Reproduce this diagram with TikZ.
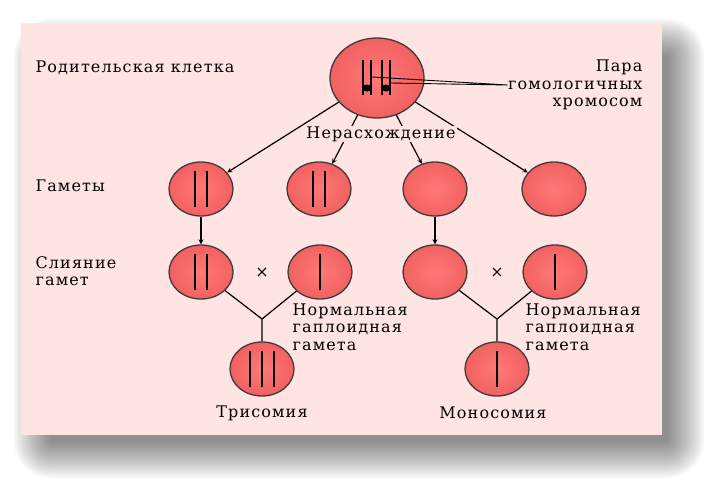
\documentclass[tikz,border=0pt]{standalone}
\usepackage{fontspec}
\setmainfont{DejaVu Serif}[LetterSpace=7.0]
\usetikzlibrary{shapes.geometric}
\definecolor{bgpink}{RGB}{255,228,228}
\definecolor{cellred}{RGB}{255,102,102}
\definecolor{cellrim}{RGB}{64,58,58}
\begin{document}
\begin{tikzpicture}[x=1pt,y=-1pt,line width=1.2pt,>=stealth,
  cell/.style={ellipse,draw=cellrim,inner color=cellred!88!white,outer color=cellred!95!black,line width=1.3pt,minimum width=64pt,minimum height=54pt,inner sep=0pt},
  bigcell/.style={cell,minimum width=94pt,minimum height=80pt},
  txt/.style={font=\fontsize{16}{17.5}\selectfont,inner sep=0pt},
  chrom/.style={line width=1.5pt,black}]
\useasboundingbox (0,0) rectangle (716,490);
% panel and its shadow
\foreach \k in {1,...,24}{\fill[black,opacity=0.024,rounded corners=\k*1.6pt] (52-1.6*\k,57-1.6*\k) rectangle (666+1.6*\k,440+1.6*\k);};
\fill[bgpink] (21,23) rectangle (662,435);
% cells
\node[bigcell] (par) at (377,78) {};
\foreach \n/\x in {g1/201,g2/319,g3/435,g4/554}{\node[cell] (\n) at (\x,189) {};};
\foreach \n/\x in {f1/201,f2/320,f3/435,f4/555}{\node[cell] (\n) at (\x,272) {};};
\node[cell] (tri) at (262,369) {};
\node[cell] (mono) at (497,369) {};
\coordinate (j1) at (262,319);
\coordinate (j2) at (497,319);
% chromosomes
\foreach \n in {g1,g2,f1}{\draw[chrom] (\n.center) ++(-6,-18) -- ++(0,36) (\n.center) ++(6,-18) -- ++(0,36);};
\foreach \n in {f2,f4,mono}{\draw[chrom] (\n.center) ++(0,-18) -- ++(0,36);};
\foreach \d in {-12,0,12}{\draw[chrom] (tri.center) ++(\d,-18) -- ++(0,36);};
\foreach \x in {363,382}{\draw[line width=2pt] (\x,60) -- (\x,95);
  \draw[line width=1.3pt] (\x+8,60) -- (\x+8,95);
  \fill (\x+4,88) ellipse (4.5 and 3.5);};
% labels
\node[txt,anchor=west] (lpar) at (35,68) {Родительская клетка};
\node[txt,anchor=west] (lgam) at (35,186) {Гаметы};
\node[txt,anchor=west,align=left] (lfus) at (35,271) {Слияние\\гамет};
\node[txt,anchor=east,align=right] (pair) at (643,85) {Пара\\гомологичных\\хромосом};
\coordinate (h1) at (372,77);
\coordinate (h2) at (390,83);
\draw[line width=0.9pt] (h1) -- (pair.west) (h2) -- (pair.west);
\foreach \g in {g1,g2,g3,g4}{\draw[->] (par) -- (\g);};
\node[txt,fill=bgpink,inner sep=1pt] (nondis) at (381,134) {Нерасхождение};
\draw[->] (g1) -- (f1);
\draw[->] (g3) -- (f3);
\draw (f1) -- (j1) -- (f2) (j1) -- (tri);
\draw (f3) -- (j2) -- (f4) (j2) -- (mono);
\node[txt] (x1) at (262,273) {×};
\node[txt] (x2) at (497,273) {×};
\node[txt,anchor=west,align=left] (norm1) at (292,327) {Нормальная\\гаплоидная\\гамета};
\node[txt,anchor=west,align=left] (norm2) at (525,327) {Нормальная\\гаплоидная\\гамета};
\node[txt] (ltri) at (262,413) {Трисомия};
\node[txt] (lmono) at (493,413) {Моносомия};
\end{tikzpicture}
\end{document}
